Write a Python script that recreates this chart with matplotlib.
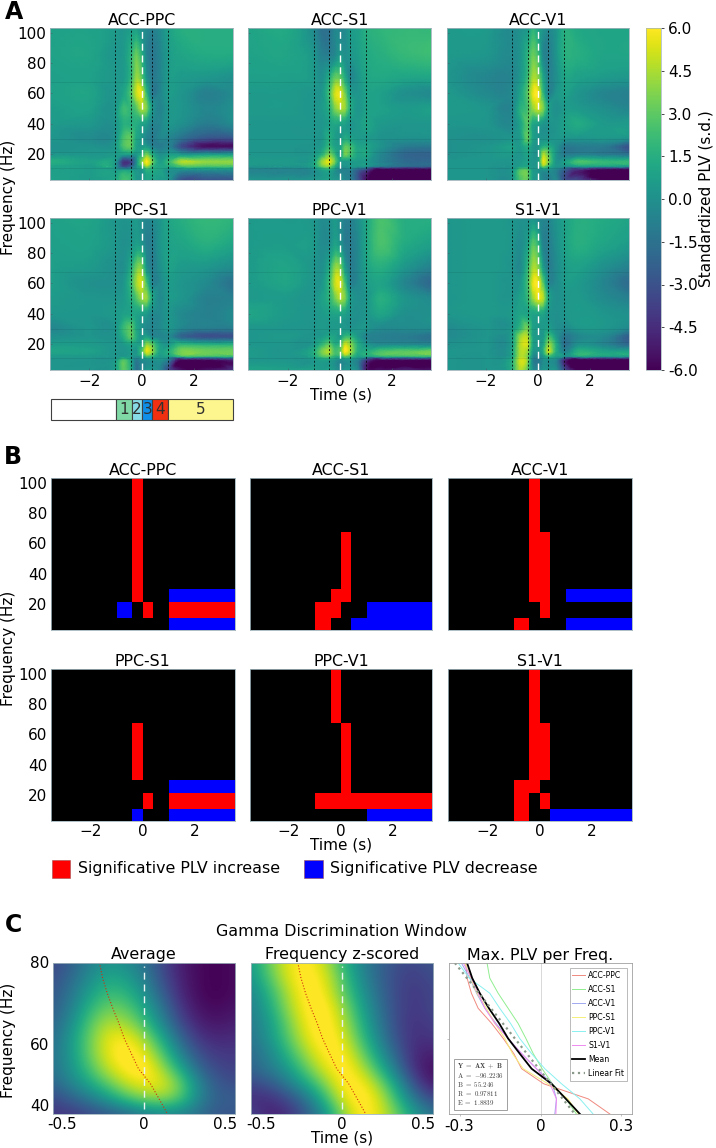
import numpy as np
import matplotlib
matplotlib.use('Agg')
import matplotlib.pyplot as plt
import matplotlib.tri as mtri
from matplotlib.patches import Rectangle

W, H = 716, 1148

pairs = ['ACC-PPC', 'ACC-S1', 'ACC-V1', 'PPC-S1', 'PPC-V1', 'S1-V1']

# panel A, standardized PLV
times_a = [-3.5, -2, -1, -.7, -.4, -.2, 0, .2, .4, .7, 1, 1.5, 2.5, 3.5]
freqs_a = [103, 85, 70, 60, 50, 40, 30, 25, 20, 15, 12, 10, 3]

plv_acc_ppc = [
    [.8, .9, .5, .3, .6, .8, -.1, -.3, -.8, -.2, .8, 1.5, 1.5, 1.5],
    [.9, 1, .3, .5, 1.8, 3.3, 1.8, -.5, -1.2, -.5, .5, 1, 1.3, 1.3],
    [.7, .8, .4, .5, 2, 4.2, 3.2, .3, -1, -.5, .5, .5, .3, 0],
    [.8, 1, .3, 1, 2.8, 5, 5.6, 2, -1, -.5, .5, .3, -.8, -.3],
    [.6, .8, .4, 2.2, 2, 2.8, 4.5, 3.5, .5, -.6, .3, .3, -.5, 0],
    [.5, .4, .2, 1.5, 1.5, 1.5, 1, .5, -.5, -.5, .3, 0, -1, -.3],
    [.3, -.2, .2, 2.5, 3, 1.2, .5, -.5, -1, -.5, -.5, -1.5, -3, -3],
    [0, .2, .5, 2.5, 3, 1, .5, .5, -.5, -1, -.5, -3, -5.5, -5.5],
    [.3, .3, .5, .8, .8, .5, 1.5, 3.5, 1.5, 0, .5, .3, .5, .5],
    [1.5, .8, .5, -4, -3.5, 0, 3.5, 6, 3.5, .8, 2, 4.5, 4, 4],
    [1, .6, .5, -3, -2, .3, 2, 4.5, 2, 1, 1.3, 2.5, 2.5, 2.5],
    [.8, .6, .5, .5, .5, .3, .5, 2, 1.5, 1, .3, .3, .3, .3],
    [.8, .6, 1.2, 2.5, 2, .5, .3, 1, .8, .5, .3, -3, -3, -3],
]
plv_acc_s1 = [
    [1, 1.2, -.3, -1.5, -1.5, -.5, -.5, -.3, .5, .8, 1.5, 1.8, 2, 2],
    [.9, 1, .3, -.7, -.8, -.3, .5, 0, .3, .7, 1.2, 1.5, 2, 2.2],
    [.7, .7, .5, 0, 1.5, 3.2, 3.2, 1.5, -.3, .3, 1, 1.2, 1, 1],
    [.5, .5, .3, .3, 2.5, 5, 5.6, 3.5, .8, .3, .8, .8, 0, -.3],
    [.5, .5, .3, .5, 1.6, 3.5, 4.5, 4, 1.5, .3, .8, .8, .5, .7],
    [.3, .3, .3, .3, .8, 1.2, 1, .8, .3, .5, 1, .5, .3, .3],
    [.3, .3, .3, .3, 1.5, .8, .5, 1.5, 1, .5, .5, .2, 0, 0],
    [.3, .3, .3, .5, 2, 1, .8, 3, 2.5, 1, 1, .3, -1, -1.2],
    [.3, .3, .5, 1.5, 3.5, 2, .5, 3.5, 2.5, 1, 1.2, -.3, -2, -2.2],
    [.5, .5, 1, 4, 5.5, 3.5, .8, .5, .5, .5, .5, -.5, -1.8, -2],
    [.3, .3, 1, 3, 4, 2, .5, .3, .5, .3, .3, -1, -2, -2.3],
    [-.5, -.5, 0, 1, 1.5, .5, -.5, -.5, -.5, -2, -3, -6, -6, -6],
    [.3, .3, .3, .5, .8, .3, .3, -.3, -.8, -3, -5.5, -6, -6, -6],
]
plv_acc_v1 = [
    [.5, .5, -.3, 0, .5, 1.8, 1, .3, -.3, .3, 1.5, 1.2, 1, 1],
    [.5, .3, -.3, .2, 1.8, 3.3, 2.3, -.3, -.8, .3, 1.5, 1.5, 1, 1],
    [.3, -.5, -.5, .3, 2.2, 4.5, 4, 1.2, -.5, 0, 1, .8, .5, .3],
    [.5, -.3, -.3, .8, 3, 5.5, 5.8, 2, -.5, .3, .8, .3, -.5, -.8],
    [.5, .3, -.4, 1.5, 2.5, 4, 5, 3.5, 1, 0, .5, .5, 0, -.5],
    [.3, .3, -.3, .8, 2.8, 1.2, .8, .3, .2, .3, .8, 1.3, .5, .5],
    [0, 0, .3, .5, 3, 1, .3, .3, .3, .3, .3, .2, .3, 0],
    [0, .3, .8, .5, 1.5, .5, .3, 1.5, 1.5, .3, -1, -1, -1, -3],
    [0, .3, .5, .3, 1, .3, .3, 4.5, 3, .3, -1, -.8, -1, -1.5],
    [.3, .3, .3, .5, .8, .3, .8, 5.5, 3.5, .3, .8, 2.5, 2, 2],
    [.3, .3, .3, .8, 1, .3, .8, 4, 2, .3, 0, .5, .5, .3],
    [.3, .3, .3, 2.5, 2.8, .5, .3, .5, .3, -.5, -2, -4, -6, -6],
    [.3, .3, .3, 2.5, 3, .5, .3, -.5, -1, -.5, -3, -3.5, -6, -6],
]
plv_ppc_s1 = [
    [.8, 1, .3, .2, .3, .5, 0, -.5, -.3, .3, 1, 1.5, 2, 1.8],
    [.7, .8, .3, 0, .3, .8, .5, -.7, -.8, .3, .8, 1, 1.5, 1],
    [.7, .5, 0, 0, 1.5, 3.5, 3.8, .3, -.8, 0, .8, .5, .3, -.3],
    [.7, 0, 0, .3, 2.2, 4.3, 5.2, 2.5, -.5, -.3, .5, .3, -.3, -1.5],
    [.5, .3, .3, .5, 1.5, 2.6, 4, 4, 1.2, -.3, .5, .3, -.8, -.8],
    [.3, .3, .5, .8, 1, 1, .8, .5, -.3, -.3, .3, -.3, -.8, -.3],
    [-.5, .3, .3, 2, 3, 1.3, .3, -.3, -.5, -.3, .3, -.5, -1, -1],
    [0, .3, .3, 1.5, 3, 1.5, .3, .8, -.3, -.5, -.3, -2, -3, -3],
    [.5, .5, .3, .5, 1, .8, 1, 4, 3, .8, .3, 1.8, 1.5, 1.5],
    [1, .8, .3, .3, .5, .3, 2.5, 5.5, 4, 1, 1.5, 3.5, 3.3, 3.3],
    [.5, .5, .3, .5, .5, .3, 1, 3, 2, .5, .8, 2, 2, 2],
    [.3, .3, .5, 2.5, 1, -1, 0, .3, .3, .3, -.5, -5, -5, -4],
    [.3, .3, .8, 3, 1.3, -1.5, -.5, .3, .3, -.5, -3, -5.5, -5.5, -4.5],
]
plv_ppc_v1 = [
    [.5, .5, .3, -.2, 0, .5, 0, -.8, -.8, 0, 1, 2.5, 1.5, 1.5],
    [.5, .6, .5, -.2, 0, 1, .5, -.8, -1, -.3, 1, 2.5, 1.3, .7],
    [.5, 1, .3, 0, 1.5, 4, 4, .8, -.8, -.3, .8, 1.5, .3, -.8],
    [.5, 1, .3, .3, 2.2, 4.8, 5.5, 2.5, -.5, -.3, .5, 1, -.5, -2],
    [.5, .5, .3, .8, 1.8, 3.2, 4.5, 3.5, .8, 0, .3, 1.5, .3, -.3],
    [1, .5, .3, .5, .8, 1, 1, .8, .3, 0, .3, 1, 0, 0],
    [.3, .3, .3, .5, .5, .5, .5, .5, .3, .3, .3, -.3, -.3, -.3],
    [.3, .5, .3, .5, 1.2, 1, .5, 2, 2, .5, -.5, -.8, -1, -1.5],
    [.3, .3, .5, 1.8, 3, 1.5, 2, 5, 4, 1.5, .3, -.3, -.3, -.5],
    [.5, .3, 1.5, 3.5, 4.5, 2.5, 3, 6, 4.5, 1.5, 1.5, 2.5, 3, 3.5],
    [.5, .3, 1.2, 2.5, 3, 2, 2, 3.5, 2.5, .8, 1, 1.5, 1.8, 2],
    [.3, .3, .5, 1, 1, .5, 0, .5, .5, -.5, -3, -5, -5, -5],
    [1, .8, .8, .5, .8, .3, -.3, .3, .3, -.5, -5, -5.5, -5, -5.5],
]
plv_s1_v1 = [
    [.3, .5, .3, 0, 0, .3, -.3, -.5, -.5, .3, .8, 1.5, 1.3, 1],
    [.3, .5, .3, -.2, 1, 3, 2, -.5, -.8, 0, .8, 1.5, 1, .5],
    [.3, .5, .2, -.3, 2, 4.5, 4, .8, -.8, -.2, .5, .8, 0, -.8],
    [.3, .5, .2, .3, 2.5, 5.5, 5.8, 3, -.3, -.2, .5, .5, -.5, -1.8],
    [.3, .5, .3, .8, 2, 4, 5.5, 4.5, 1.2, 0, .3, .5, -.2, -.8],
    [.3, .5, .5, 1, 1, 1, 1, 1, .3, 0, .3, .5, .3, 0],
    [-.3, .3, .5, 2, 3.5, 1, .5, .5, .8, 0, -.3, .3, .3, -.5],
    [-.3, .3, .8, 4, 4.5, 1, .5, .5, 2.5, .5, -1.2, -.5, -.3, -2.5],
    [0, .3, .8, 4.5, 5, 1, .5, 1, 4, 1.5, -1.5, 0, -.5, -2],
    [.3, .3, 1, 4.5, 4, .5, .3, 1.5, 5, 1.5, -.5, 1.5, 1, 1],
    [.3, .3, 1, 4.5, 3.5, 0, -.3, .5, 2, .8, 0, .8, .5, .5],
    [.3, .3, 1.5, 5, 4, -.5, -1, 0, .3, -.3, -4, -6, -6, -6],
    [.3, .3, 1.5, 4.5, 3, 0, -.5, .3, .3, 0, -3, -6, -6, -6],
]
plv_all = [plv_acc_ppc, plv_acc_s1, plv_acc_v1, plv_ppc_s1, plv_ppc_v1, plv_s1_v1]

# windows and bands
window_edges = [-3.5, -1, -.4, 0, .4, 1, 3.5]
window_names = ['', '1', '2', '3', '4', '5']
window_colors = ['white', '#7fd8a5', '#87dce8', '#0f8fe8', '#f03010', '#fdf58e']
band_edges = [3, 11, 21.5, 30, 67.5, 103]

# panel B, +1 increase, -1 decrease; rows low band to high band, columns windows
sig_acc_ppc = [[0, 0, 0, 0, 0, -1], [0, -1, 0, 1, 0, 1], [0, 0, 1, 0, 0, -1], [0, 0, 1, 0, 0, 0], [0, 0, 1, 0, 0, 0]]
sig_acc_s1 = [[0, 1, 0, 0, -1, -1], [0, 1, 1, 0, 0, -1], [0, 0, 1, 1, 0, 0], [0, 0, 0, 1, 0, 0], [0, 0, 0, 0, 0, 0]]
sig_acc_v1 = [[0, 1, 0, 0, 0, -1], [0, 0, 0, 1, 0, 0], [0, 0, 1, 1, 0, -1], [0, 0, 1, 1, 0, 0], [0, 0, 1, 0, 0, 0]]
sig_ppc_s1 = [[0, 0, -1, 0, 0, -1], [0, 0, 0, 1, 0, 1], [0, 0, 0, 0, 0, -1], [0, 0, 1, 0, 0, 0], [0, 0, 0, 0, 0, 0]]
sig_ppc_v1 = [[0, 0, 0, 0, 0, -1], [0, 1, 1, 1, 1, 1], [0, 0, 0, 1, 0, 0], [0, 0, 0, 1, 0, 0], [0, 0, 1, 0, 0, 0]]
sig_s1_v1 = [[0, 1, 0, 0, -1, -1], [0, 1, 0, 1, 0, 0], [0, 1, 1, 0, 0, 0], [0, 0, 1, 1, 0, 0], [0, 0, 1, 0, 0, 0]]
sig_all = [sig_acc_ppc, sig_acc_s1, sig_acc_v1, sig_ppc_s1, sig_ppc_v1, sig_s1_v1]

# panel C, normalised colour values
freqs_c = [80, 76, 72, 68, 64, 60, 56, 52, 48, 44, 40]
gamma_avg = [
    [.2, .28, .4, .48, .45, .35, .2, .07, .02, 0, .03],
    [.22, .32, .45, .55, .52, .4, .22, .08, .02, 0, .03],
    [.25, .36, .52, .63, .6, .47, .27, .1, .02, 0, .03],
    [.27, .4, .6, .72, .7, .55, .35, .14, .04, .02, .05],
    [.3, .45, .68, .82, .8, .65, .42, .2, .08, .05, .08],
    [.33, .5, .72, .9, .93, .8, .55, .3, .14, .1, .12],
    [.35, .5, .72, .9, .98, .9, .68, .4, .22, .15, .15],
    [.35, .48, .66, .85, .95, .98, .8, .55, .3, .2, .18],
    [.3, .42, .55, .7, .85, .92, .9, .72, .42, .25, .22],
    [.2, .28, .38, .5, .65, .75, .78, .68, .42, .28, .28],
    [.15, .15, .2, .25, .3, .38, .42, .4, .33, .25, .25],
]
gamma_z = [
    [.5, .72, .9, .95, .85, .62, .42, .3, .22, .2, .25],
    [.48, .68, .88, .97, .9, .68, .45, .3, .2, .17, .22],
    [.42, .6, .82, .97, .93, .72, .5, .32, .2, .15, .2],
    [.4, .55, .78, .95, .97, .8, .55, .35, .2, .15, .2],
    [.38, .5, .72, .92, .98, .85, .6, .38, .2, .13, .18],
    [.36, .48, .68, .88, .98, .9, .66, .42, .22, .12, .15],
    [.32, .42, .6, .8, .95, .95, .75, .5, .27, .1, .08],
    [.3, .38, .5, .7, .88, .98, .85, .62, .35, .1, .03],
    [.2, .25, .38, .55, .75, .95, .95, .78, .5, .2, .05],
    [.12, .12, .2, .35, .6, .88, .98, .88, .62, .35, .2],
    [.2, .08, .12, .25, .45, .75, .95, .9, .72, .5, .35],
]
peak_acc_ppc = [-.277, -.272, -.256, -.231, -.181, -.138, -.099, -.070, .012, .177, .257]
peak_acc_s1 = [-.198, -.188, -.157, -.12, -.083, -.054, -.027, .006, .044, .094, .133]
peak_acc_v1 = [-.293, -.262, -.237, -.206, -.165, -.12, -.07, -.015, .044, .059, .053]
peak_ppc_s1 = [-.28, -.259, -.235, -.2, -.169, -.132, -.104, -.064, .028, .102, .14]
peak_ppc_v1 = [-.305, -.264, -.188, -.151, -.111, -.077, -.033, .016, .078, .146, .195]
peak_s1_v1 = [-.286, -.256, -.231, -.206, -.169, -.12, -.07, -.015, .035, .059, .057]
peak_mean = [-.272, -.253, -.225, -.191, -.153, -.12, -.077, -.033, .041, .094, .146]
fit_t = [-.317, .127]
fit_f = [80, 40]
peak_all = [peak_acc_ppc, peak_acc_s1, peak_acc_v1, peak_ppc_s1, peak_ppc_v1, peak_s1_v1]
peak_colors = ['#f08a80', '#90ee90', '#a0a8f0', '#f5f07a', '#8af0f0', '#f08af0']

plt.rcParams['font.family'] = 'DejaVu Sans'
plt.rcParams['font.size'] = 11
plt.rcParams['mathtext.fontset'] = 'cm'
plt.rcParams['axes.linewidth'] = 0.6
plt.rcParams['axes.edgecolor'] = '#9fb3bb'

fig = plt.figure(figsize=(W / 100, H / 100), dpi=100)


def px_axes(x0, y0, x1, y1):
    return fig.add_axes([x0 / W, 1 - y1 / H, (x1 - x0) / W, (y1 - y0) / H])


def px_text(x, y, s, **kw):
    kw.setdefault('ha', 'center')
    kw.setdefault('va', 'center')
    fig.text(x / W, 1 - y / H, s, **kw)


# smooth drawing of a coarse grid with matplotlib's own triangulation tools
tt, ff = np.meshgrid(times_a, freqs_a)
grid_tri = mtri.Triangulation(tt.ravel(), ff.ravel())
refiner = mtri.UniformTriRefiner(grid_tri)

cols_a = [(50, 233), (248.5, 431), (447, 629)]
rows_a = [(28, 180), (218, 370)]
mesh = None
for i, name in enumerate(pairs):
    x0, x1 = cols_a[i % 3]
    y0, y1 = rows_a[i // 3]
    ax = px_axes(x0, y0, x1, y1)
    z = np.array(plv_all[i]).ravel()
    smooth = mtri.CubicTriInterpolator(grid_tri, z, kind='geom')
    fine_tri, fine_z = refiner.refine_field(z, triinterpolator=smooth, subdiv=3)
    mesh = ax.tripcolor(fine_tri, fine_z, shading='gouraud', cmap='viridis', vmin=-6, vmax=6)
    for f in band_edges[1:-1]:
        ax.axhline(f, color='k', lw=0.5, alpha=0.1)
    for t in [-1, -.4, .4, 1]:
        ax.axvline(t, color='k', lw=0.7, ls=(0, (2, 2)), alpha=0.8)
    ax.axvline(0, color='white', lw=1.0, ls=(0, (5, 3.5)))
    ax.set_xlim(-3.5, 3.5)
    ax.set_ylim(3, 103)
    ax.set_xticks([-2, 0, 2])
    ax.set_yticks([20, 40, 60, 80, 100])
    ax.tick_params(length=1.5, width=0.4, direction='in', color='#40606a', pad=3)
    ax.tick_params(labelbottom=i >= 3, labelleft=i % 3 == 0)
    ax.set_title(name, fontsize=11.4, pad=2)

cax = px_axes(646, 28, 661, 370)
cb = fig.colorbar(mesh, cax=cax, ticks=np.arange(-6, 6.1, 1.5), format='%.1f')
cb.ax.tick_params(length=2, width=0.5, pad=3)
cb.outline.set_linewidth(0.5)
px_text(706, 199, 'Standardized PLV (s.d.)', rotation=90)
px_text(9, 197, 'Frequency (Hz)', rotation=90)
px_text(341, 395, 'Time (s)')
px_text(14, 12, 'A', fontsize=17, fontweight='bold')

# window bar
bar = px_axes(51, 399, 233, 420)
bar.barh(0, np.diff(window_edges), left=window_edges[:-1], height=1, color=window_colors,
         edgecolor='#404040', linewidth=0.8, clip_on=False)
for j, label in enumerate(window_names):
    if label:
        bar.text((window_edges[j] + window_edges[j + 1]) / 2, 0, label, ha='center', va='center', color='#303030')
bar.set_xlim(-3.5, 3.5)
bar.set_ylim(-.5, .5)
bar.axis('off')

# panel B
cols_b = [(51, 234.5), (250, 432), (448, 631.5)]
rows_b = [(478, 630), (669, 821)]
sig_cmap = matplotlib.colors.ListedColormap(['#0000ff', 'black', '#ff0000'])
for i, name in enumerate(pairs):
    x0, x1 = cols_b[i % 3]
    y0, y1 = rows_b[i // 3]
    ax = px_axes(x0, y0, x1, y1)
    ax.pcolormesh(window_edges, band_edges, np.array(sig_all[i]), cmap=sig_cmap, vmin=-1.5, vmax=1.5)
    ax.set_xlim(-3.5, 3.5)
    ax.set_ylim(3, 103)
    ax.set_xticks([-2, 0, 2])
    ax.set_yticks([20, 40, 60, 80, 100])
    ax.tick_params(length=0, pad=2.5)
    ax.tick_params(labelbottom=i >= 3, labelleft=i % 3 == 0)
    ax.set_title(name, fontsize=11.4, pad=2)
px_text(9, 648, 'Frequency (Hz)', rotation=90)
px_text(341, 845, 'Time (s)')
px_text(13, 457, 'B', fontsize=17, fontweight='bold')

for x, col, txt in [(51.5, '#ff0000', 'Significative PLV increase'), (304, '#0000ff', 'Significative PLV decrease')]:
    fig.patches.append(Rectangle((x / W, 1 - 878 / H), 18.5 / W, 18 / H, transform=fig.transFigure,
                                 facecolor=col, edgecolor='#a05050', linewidth=0.4))
    px_text(x + 26.5, 869, txt, ha='left', fontsize=11.4)

# panel C
cols_c = [(52.5, 235), (251, 433), (449, 632)]
for k, (grid, name) in enumerate([(gamma_avg, 'Average'), (gamma_z, 'Frequency z-scored')]):
    ax = px_axes(cols_c[k][0], 962.5, cols_c[k][1], 1114)
    ax.imshow(np.array(grid), extent=[-.616, .616, 38, 82], aspect='auto', interpolation='bicubic',
              cmap='viridis', vmin=0, vmax=.93)
    ax.plot(peak_mean, freqs_c, color='#d03010', lw=0.8, ls=':')
    ax.axvline(0, ymin=0.03, ymax=0.98, color='#e8f4f4', lw=1.0, ls=(0, (5, 3.5)))
    ax.set_xlim(-.56, .56)
    ax.set_ylim(40, 80)
    ax.set_xticks([-.5, 0, .5], ['-0.5', '0', '0.5'])
    ax.tick_params(length=0, pad=2)
    if k == 0:
        ax.set_yticks([40, 60, 80], ['40', '60', '80'])
        ax.get_yticklabels()[0].set_va('bottom')
        ax.get_yticklabels()[1].set_va('top')
    else:
        ax.set_yticks([])
    ax.set_title(name, fontsize=11.4, pad=2.5)

ax = px_axes(cols_c[2][0], 963, cols_c[2][1], 1114)
ax.axvline(0, color='#d8d8d8', lw=0.7)
for i, name in enumerate(pairs):
    ax.plot(peak_all[i], freqs_c, color=peak_colors[i], lw=0.7, label=name)
ax.plot(peak_mean, freqs_c, color='black', lw=1.3, label='Mean')
ax.plot(fit_t, fit_f, color='#8a9a8a', lw=1.6, ls=':', label='Linear Fit')
ax.set_xlim(-.339, .339)
ax.set_ylim(40, 80)
ax.set_xticks([-.3, 0, .3], ['-0.3', '0', '0.3'])
ax.set_yticks([60], [''])
ax.tick_params(length=1.5, width=0.4, color='#909090', pad=2)
for s in ax.spines.values():
    s.set_color('#a0a0a0')
ax.set_title('Max. PLV per Freq.', fontsize=11.4, pad=2.5)
leg = ax.legend(loc='upper right', fontsize=5.6, labelspacing=0.65, handlelength=1.7, handletextpad=0.4,
                borderpad=0.3, borderaxespad=0.7, fancybox=False, framealpha=1, edgecolor='#a0a0a0')
leg.get_frame().set_linewidth(0.5)

fit_lines = '\n'.join([r'$\mathbf{Y\ =\ AX\ +\ B}$', r'$\mathrm{A\ =\ {-}96.2236}$', r'$\mathrm{B\ =\ 55.246}$',
                       r'$\mathrm{R\ =\ 0.97811}$', r'$\mathrm{E\ =\ 1.8839}$'])
ax.text(0.045, 0.045, fit_lines, transform=ax.transAxes, fontsize=5, va='bottom', ha='left', color='#404040',
        linespacing=1.0, bbox=dict(boxstyle='square,pad=0.4', facecolor='white', edgecolor='#a0a0a0', linewidth=0.7))

px_text(342, 931, 'Gamma Discrimination Window', fontsize=11.4)
px_text(9, 1040, 'Frequency (Hz)', rotation=90)
px_text(342, 1138, 'Time (s)')
px_text(14, 925, 'C', fontsize=17, fontweight='bold')

fig.savefig('out.png', dpi=100)
